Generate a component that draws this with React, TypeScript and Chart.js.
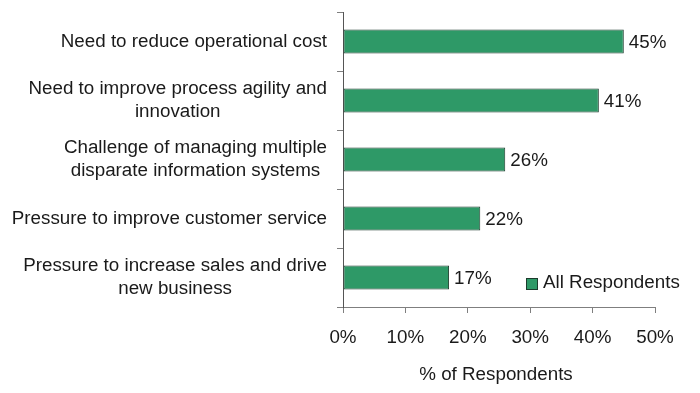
import React, { useEffect, useRef } from "react";
import { Chart, registerables } from "chart.js";

Chart.register(...registerables);

const categories: string[][] = [
  ["Need to reduce operational cost"],
  ["Need to improve process agility and", "innovation"],
  ["Challenge of managing multiple", "disparate information systems"],
  ["Pressure to improve customer service"],
  ["Pressure to increase sales and drive", "new business"],
];
const values: number[] = [45, 41, 26, 22, 17];
const seriesName = "All Respondents";
const xTitle = "% of Respondents";
const xMax = 50;
const xStep = 10;

const FONT = "'Liberation Sans', Arial, sans-serif";
const FS = 18.8;
const GREEN = "#2e9967";
const DARK = "#1c3b2c";
const AXIS = "#7f7f7f";
const TEXT = "#1a1a1a";

const customDraw = {
  id: "customDraw",
  afterDraw(chart: any) {
    const ctx = chart.ctx as CanvasRenderingContext2D;
    const ys = chart.scales.y;
    const area = chart.chartArea;
    ctx.save();
    ctx.font = `${FS}px ${FONT}`;
    ctx.fillStyle = TEXT;
    ctx.textBaseline = "middle";
    const rightEdge = area.left - 16;
    const lh = 23;
    categories.forEach((lines, i) => {
      const cy = ys.getPixelForValue(i);
      const w = Math.max(...lines.map((l) => ctx.measureText(l).width));
      const cx = rightEdge - w / 2;
      ctx.textAlign = "center";
      lines.forEach((l, k) => {
        const y = cy + (k - (lines.length - 1) / 2) * lh;
        ctx.fillText(l, cx, y);
      });
    });
    const meta = chart.getDatasetMeta(0);
    ctx.textAlign = "left";
    meta.data.forEach((bar: any, i: number) => {
      ctx.fillText(values[i] + "%", bar.x + 5, bar.y + 1);
    });
    ctx.textAlign = "center";
    ctx.fillText(xTitle, (area.left + area.right) / 2 - 3, 375);
    const lx = 526;
    const ly = 278;
    ctx.fillStyle = GREEN;
    ctx.fillRect(lx, ly, 11, 11);
    ctx.strokeStyle = DARK;
    ctx.lineWidth = 1;
    ctx.strokeRect(lx + 0.5, ly + 0.5, 11, 11);
    ctx.fillStyle = TEXT;
    ctx.textAlign = "left";
    ctx.fillText(seriesName, lx + 17, ly + 5);
    ctx.restore();
  },
};

export default function App() {
  const ref = useRef<HTMLCanvasElement | null>(null);
  useEffect(() => {
    if (!ref.current) return;
    const chart = new Chart(ref.current, {
      type: "bar",
      data: {
        labels: categories.map((c) => c.join(" ")),
        datasets: [
          {
            label: seriesName,
            data: values,
            backgroundColor: GREEN,
            borderColor: DARK,
            borderWidth: 1,
            borderSkipped: false,
            barPercentage: 0.41,
            categoryPercentage: 1,
          },
        ],
      },
      options: {
        indexAxis: "y",
        animation: false,
        responsive: true,
        maintainAspectRatio: false,
        layout: { padding: { top: 12, right: 45, left: 0, bottom: 0 } },
        plugins: {
          legend: { display: false },
          tooltip: { enabled: false },
        },
        scales: {
          x: {
            min: 0,
            max: xMax,
            afterFit: (s: any) => {
              s.height = 86;
            },
            ticks: {
              stepSize: xStep,
              callback: (v: any) => v + "%",
              font: { family: FONT, size: FS },
              color: TEXT,
              padding: 14,
              maxRotation: 0,
            },
            grid: {
              display: true,
              drawOnChartArea: false,
              drawTicks: true,
              tickLength: 6,
              color: AXIS,
            },
            border: { display: true, color: AXIS, width: 1 },
          },
          y: {
            afterFit: (s: any) => {
              s.width = 343;
            },
            ticks: { display: false },
            grid: {
              display: true,
              offset: true,
              drawOnChartArea: false,
              drawTicks: true,
              tickLength: 6,
              color: AXIS,
            },
            border: { display: true, color: "#555", width: 1 },
          },
        },
      },
      plugins: [customDraw],
    });
    return () => chart.destroy();
  }, []);
  return (
    <div style={{ position: "absolute", left: 0, top: 0, width: 700, height: 393, background: "#fff" }}>
      <canvas ref={ref} />
    </div>
  );
}
